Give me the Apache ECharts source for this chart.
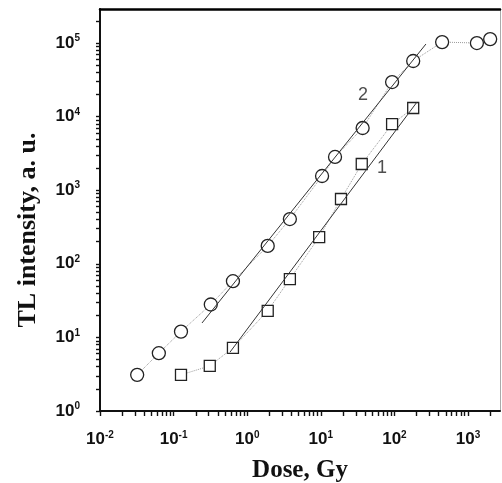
<!DOCTYPE html>
<html>
<head>
<meta charset="utf-8">
<script src="https://cdn.jsdelivr.net/npm/echarts@6/dist/echarts.min.js"></script>
<style>
  html, body { margin: 0; padding: 0; background: #fff; }
  #chart { width: 502px; height: 483px; }
</style>
</head>
<body>
<div id="chart"></div>
<script>
// curve 2 (circles)
const doseCircle = [0.032, 0.063, 0.126, 0.32, 0.64, 1.9, 3.8, 10.4, 15.6, 37, 93, 180, 445, 1320, 2000];
const tlCircle = [3.1, 6.1, 12, 28, 58, 175, 406, 1560, 2830, 7000, 29500, 57000, 103000, 100000, 113000];

// curve 1 (squares)
const doseSquare = [0.126, 0.31, 0.64, 1.9, 3.8, 9.5, 18.8, 36, 93, 180];
const tlSquare = [3.1, 4.1, 7.2, 23, 62, 231, 760, 2270, 7900, 13100];

// straight fits, end points
const fit2Dose = [0.243, 268];
const fit2Tl = [15.7, 96900];
const fit1Dose = [0.583, 203];
const fit1Tl = [6.3, 15800];

// curve numbers
const curveLabels = ['2', '1'];
const curveLabelDose = [37.4, 68];
const curveLabelTl = [19600, 2000];

// axes
const xRange = [0.01, 2720];
const yRange = [1, 290000];
const xPowers = [-2, -1, 0, 1, 2, 3];
const yPowers = [0, 1, 2, 3, 4, 5];

const lg = Math.log10;
const pairs = (xs, ys) => xs.map((x, i) => [lg(x), lg(ys[i])]);

// 1..9 x 10^n positions inside the range
function allTicks(range) {
  const out = [];
  const lo = lg(range[0]), hi = lg(range[1]);
  for (let p = Math.floor(lo); p <= Math.ceil(hi); p++) {
    for (let k = 1; k <= 9; k++) {
      const v = p + lg(k);
      if (v >= lo - 1e-9 && v < hi) out.push(v);
    }
  }
  return out;
}

const powLabel = v => {
  const n = Math.round(v);
  if (Math.abs(v - n) > 1e-6) return '';
  return '{b|10}{s|' + n + '}';
};

const labelRich = {
  b: { fontFamily: 'Liberation Sans', fontWeight: 'bold', fontSize: 17, color: '#111' },
  s: { fontFamily: 'Liberation Sans', fontWeight: 'bold', fontSize: 10, color: '#111', padding: [0, 0, 9, 0] }
};

const titleStyle = { fontFamily: 'Liberation Serif', fontWeight: 'bold', color: '#111' };

const myChart = echarts.init(document.getElementById('chart'));

const option = {
  animation: false,
  grid: { left: 100, top: 9, right: 2, bottom: 72, outerBoundsMode: 'none', containLabel: false },
  xAxis: [
    {
      type: 'value', min: lg(xRange[0]), max: lg(xRange[1]), interval: 1, position: 'bottom',
      name: 'Dose, Gy', nameLocation: 'middle', nameGap: 47,
      nameTextStyle: Object.assign({ fontSize: 25 }, titleStyle),
      axisLine: { show: true, onZero: false, lineStyle: { color: '#111', width: 2 } },
      axisTick: { show: true, length: 5, lineStyle: { color: '#111', width: 1.4 }, customValues: allTicks(xRange) },
      axisLabel: {
        margin: 19, formatter: powLabel, rich: labelRich, customValues: xPowers,
        fontFamily: 'Liberation Sans', fontWeight: 'bold', fontSize: 17, color: '#111'
      },
      splitLine: { show: false }
    },
    {
      type: 'value', min: lg(xRange[0]), max: lg(xRange[1]), position: 'top',
      axisLine: { show: true, onZero: false, lineStyle: { color: '#000', width: 2.5 } },
      axisTick: { show: false },
      axisLabel: { show: false },
      splitLine: { show: false }
    }
  ],
  yAxis: [
    {
      type: 'value', min: lg(yRange[0]), max: lg(yRange[1]), interval: 1, position: 'left',
      name: 'TL intensity, a. u.', nameLocation: 'middle', nameGap: 59,
      nameTextStyle: Object.assign({ fontSize: 26, padding: [0, 40, 0, 0] }, titleStyle),
      axisLine: { show: true, onZero: false, lineStyle: { color: '#111', width: 2 } },
      axisTick: { show: true, length: 4, lineStyle: { color: '#111', width: 1.4 }, customValues: allTicks(yRange) },
      axisLabel: {
        margin: 20, formatter: powLabel, rich: labelRich, customValues: yPowers,
        fontFamily: 'Liberation Sans', fontWeight: 'bold', fontSize: 17, color: '#111'
      },
      splitLine: { show: false }
    },
    {
      type: 'value', min: lg(yRange[0]), max: lg(yRange[1]), position: 'right',
      axisLine: { show: true, onZero: false, lineStyle: { color: '#aaa', width: 1 } },
      axisTick: { show: false },
      axisLabel: { show: false },
      splitLine: { show: false }
    }
  ],
  series: [
    {
      type: 'line',
      data: pairs(doseCircle, tlCircle),
      symbol: 'circle', symbolSize: 13,
      lineStyle: { color: '#999', width: 1, type: 'dotted' },
      itemStyle: { color: '#fff', borderColor: '#222', borderWidth: 1.3 },
      z: 2
    },
    {
      type: 'line',
      data: pairs(doseSquare, tlSquare),
      symbol: 'rect', symbolSize: 11,
      lineStyle: { color: '#999', width: 1, type: 'dotted' },
      itemStyle: { color: '#fff', borderColor: '#222', borderWidth: 1.3 },
      z: 2
    },
    {
      type: 'line',
      data: pairs(fit2Dose, fit2Tl),
      symbol: 'none',
      lineStyle: { color: '#333', width: 1 },
      z: 3
    },
    {
      type: 'line',
      data: pairs(fit1Dose, fit1Tl),
      symbol: 'none',
      lineStyle: { color: '#333', width: 1 },
      z: 3
    },
    {
      type: 'scatter',
      data: curveLabels.map((t, i) => ({ name: t, value: [lg(curveLabelDose[i]), lg(curveLabelTl[i])] })),
      symbolSize: 0,
      label: {
        show: true, position: 'inside', formatter: '{b}',
        fontFamily: 'Liberation Sans', fontSize: 18, color: '#222'
      },
      z: 4
    }
  ]
};

myChart.setOption(option);
</script>
</body>
</html>
